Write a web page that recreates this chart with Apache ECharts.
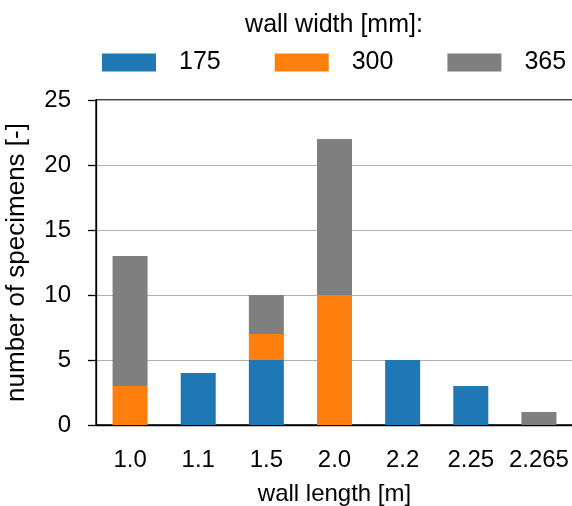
<!DOCTYPE html>
<html>
<head>
<meta charset="utf-8">
<script src="https://cdn.jsdelivr.net/npm/echarts@6/dist/echarts.min.js"></script>
<style>
  html, body { margin: 0; padding: 0; background: #fff; }
  #chart { width: 572px; height: 506px; }
</style>
</head>
<body>
<div id="chart"></div>
<script>
// wall length categories [m]
const lengths = ['1.0', '1.1', '1.5', '2.0', '2.2', '2.25', '2.265']
// number of specimens per wall width
const w175 = [0, 4, 5, 0, 5, 3, 0]
const w300 = [3, 0, 2, 10, 0, 0, 0]
const w365 = [10, 0, 3, 12, 0, 0, 1]
const yTicks = [0, 5, 10, 15, 20, 25]

const font = "'Liberation Sans', Arial, sans-serif"
const chart = echarts.init(document.getElementById('chart'))

const bar = (name, data, color) => ({
  name: name,
  type: 'bar',
  stack: 'total',
  barWidth: 35,
  data: data,
  itemStyle: { color: color },
  emphasis: { disabled: true }
})

chart.setOption({
  animation: false,
  textStyle: { fontFamily: font },
  title: {
    text: 'wall width [mm]:',
    left: 334,
    textAlign: 'center',
    top: 13,
    padding: 0,
    textStyle: { fontSize: 25, fontWeight: 'normal', color: '#000', fontFamily: font }
  },
  legend: {
    left: 102,
    top: 50,
    padding: 0,
    itemWidth: 54,
    itemHeight: 18,
    itemGap: 54,
    icon: 'rect',
    textStyle: { fontSize: 25, color: '#000', padding: [0, 0, 0, 18], fontFamily: font },
    data: ['175', '300', '365']
  },
  grid: {
    left: 96,
    top: 100,
    bottom: 81,
    right: -1,
    containLabel: false,
    outerBoundsMode: 'none',
    show: true,
    borderColor: '#000',
    borderWidth: 1.3
  },
  xAxis: {
    type: 'category',
    data: lengths,
    name: 'wall length [m]',
    nameLocation: 'middle',
    nameGap: 57,
    nameTextStyle: { fontSize: 24, color: '#000' },
    axisLine: { lineStyle: { color: '#000', width: 1.3 } },
    axisTick: { alignWithLabel: true, length: 8, lineStyle: { color: '#000', width: 1.3 } },
    axisLabel: { fontSize: 24, color: '#000', margin: 23, interval: 0, hideOverlap: false },
    splitLine: { show: false }
  },
  yAxis: {
    type: 'value',
    min: yTicks[0],
    max: yTicks[yTicks.length - 1],
    interval: 5,
    name: 'number of specimens [-]',
    nameLocation: 'middle',
    nameGap: 66,
    nameTextStyle: { fontSize: 26, color: '#000' },
    axisLine: { show: true, lineStyle: { color: '#000', width: 1.3 } },
    axisTick: { show: true, length: 8, lineStyle: { color: '#000', width: 1.3 } },
    axisLabel: { fontSize: 24, color: '#000', margin: 25 },
    splitLine: { lineStyle: { color: '#b0b0b0', width: 1 } }
  },
  series: [
    bar('175', w175, '#1f77b4'),
    bar('300', w300, '#ff7f0e'),
    bar('365', w365, '#7f7f7f')
  ]
})
</script>
</body>
</html>
